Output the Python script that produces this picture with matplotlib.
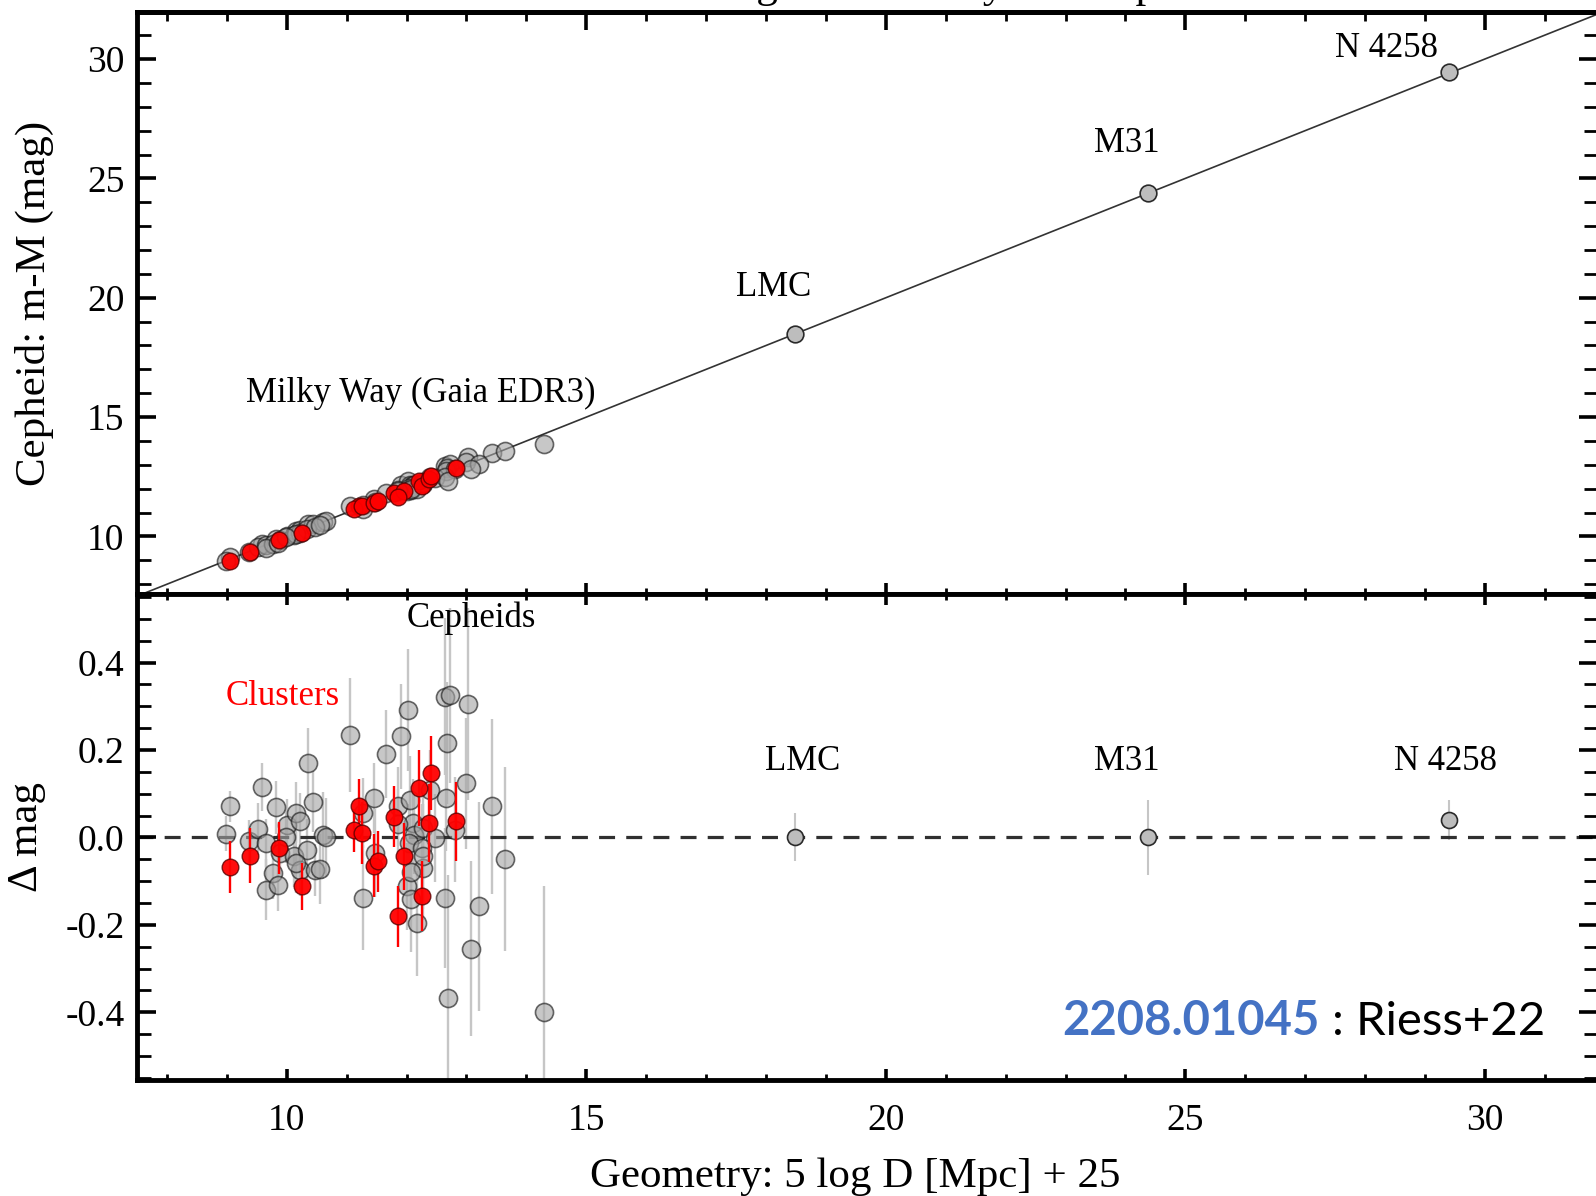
import matplotlib
matplotlib.use("Agg")
import matplotlib.pyplot as plt
import numpy as np
from matplotlib.ticker import FormatStrFormatter, MultipleLocator, NullFormatter

# Geometric anchors: geometric distance modulus, Cepheid - geometry offset, error
anchor_names = ["LMC", "M31", "N 4258"]
anchor_mu_geo = [18.48, 24.37, 29.40]
anchor_dmag = [0.000, 0.000, 0.040]
anchor_err = [0.055, 0.085, 0.045]

# Milky Way Cepheids in open clusters
cluster_mu_geo = [9.05, 9.38, 9.87, 10.26, 11.20, 11.12, 11.26, 11.46, 11.52,
                  11.79, 11.96, 11.85, 12.20, 12.25, 12.38, 12.40, 12.82]
cluster_dmag = [-0.068, -0.042, -0.024, -0.112, 0.073, 0.016, 0.010, -0.065, -0.055,
                0.047, -0.043, -0.180, 0.114, -0.135, 0.033, 0.147, 0.037]
cluster_err = [0.060, 0.063, 0.060, 0.053, 0.060, 0.050, 0.070, 0.072, 0.070,
               0.070, 0.077, 0.070, 0.087, 0.080, 0.090, 0.085, 0.090]

# Milky Way field Cepheids (Gaia EDR3 parallaxes)
field_mu_geo = [9.05, 8.98, 9.58, 9.37, 9.52, 9.66, 9.82, 10.00, 10.16, 10.22,
                10.35, 10.43, 10.60, 10.65, 9.88, 9.77, 9.65, 9.85, 10.12, 10.22,
                10.34, 10.47, 10.16, 9.99, 10.55,
                11.06, 11.46, 11.65, 11.91, 12.03, 12.64, 12.72, 13.03, 12.67, 12.99,
                13.42, 13.64, 11.27, 11.86, 12.05, 12.39, 12.65, 12.11, 12.13, 12.27,
                12.47, 12.80, 11.48, 12.04, 12.25, 11.27, 12.00, 12.08, 12.17, 12.28,
                12.08, 12.27, 12.64, 12.69, 13.21, 13.07, 14.29, 11.86]
field_dmag = [0.071, 0.008, 0.115, -0.009, 0.019, -0.013, 0.069, 0.029, 0.057, 0.037,
              0.170, 0.082, 0.005, 0.000, -0.036, -0.081, -0.120, -0.108, -0.043, -0.074,
              -0.028, -0.074, -0.058, 0.002, -0.072,
              0.235, 0.090, 0.191, 0.231, 0.292, 0.322, 0.325, 0.305, 0.216, 0.124,
              0.071, -0.049, 0.056, 0.071, 0.086, 0.109, 0.090, 0.033, 0.006, 0.021,
              -0.001, 0.018, -0.036, -0.013, -0.024, -0.138, -0.112, -0.142, -0.196, -0.070,
              -0.078, -0.043, -0.138, -0.367, -0.158, -0.255, -0.400, 0.030]
field_err = [0.035, 0.040, 0.055, 0.050, 0.060, 0.055, 0.060, 0.060, 0.070, 0.065,
             0.080, 0.070, 0.100, 0.090, 0.050, 0.060, 0.070, 0.060, 0.070, 0.060,
             0.070, 0.060, 0.070, 0.060, 0.080,
             0.130, 0.080, 0.100, 0.120, 0.140, 0.180, 0.200, 0.220, 0.140, 0.150,
             0.200, 0.210, 0.080, 0.090, 0.100, 0.090, 0.120, 0.100, 0.090, 0.080,
             0.100, 0.120, 0.100, 0.090, 0.100, 0.120, 0.100, 0.120, 0.120, 0.120,
             0.100, 0.120, 0.160, 0.280, 0.240, 0.200, 0.290, 0.080]

# Cepheid distance modulus = geometry + offset
anchor_mu_ceph = np.add(anchor_mu_geo, anchor_dmag)
cluster_mu_ceph = np.add(cluster_mu_geo, cluster_dmag)
field_mu_ceph = np.add(field_mu_geo, field_dmag)

SERIF = "Liberation Serif"
plt.rcParams.update({
    "font.family": SERIF,
    "axes.unicode_minus": False,
    "axes.linewidth": 3.5,
    "xtick.direction": "in",
    "ytick.direction": "in",
    "xtick.labelsize": 27,
    "ytick.labelsize": 27,
})

GRAY_FACE = (0.64, 0.64, 0.64, 0.6)
GRAY_EDGE = (0.1, 0.1, 0.1, 0.65)
RED_FACE = (1.0, 0.0, 0.0, 0.95)
RED_EDGE = (0.35, 0.0, 0.0, 0.8)
ANCHOR_FACE = "#bdbdbd"

fig = plt.figure(figsize=(15.96, 11.96), dpi=100)
left, width = 137 / 1596, 1460.5 / 1596
ax_top = fig.add_axes([left, 1 - 594 / 1196, width, 582 / 1196])
ax_bot = fig.add_axes([left, 1 - 1080 / 1196, width, 486 / 1196])

xlim = (7.5, 31.88)

# Upper panel: Cepheid vs geometric distance moduli
ax = ax_top
ax.axline((10, 10), slope=1, color="#333333", lw=1.2, zorder=1)
ax.plot(field_mu_geo, field_mu_ceph, "o", ms=13, mfc=GRAY_FACE, mec=GRAY_EDGE, mew=1.2, zorder=2)
ax.plot(cluster_mu_geo, cluster_mu_ceph, "o", ms=12, mfc=RED_FACE, mec=RED_EDGE, mew=1.0, zorder=3)
ax.plot(anchor_mu_geo, anchor_mu_ceph, "o", ms=12, mfc=ANCHOR_FACE, mec="#2a2a2a", mew=1.2, zorder=3)
ax.set_xlim(*xlim)
ax.set_ylim(7.59, 31.97)
ax.xaxis.set_major_locator(MultipleLocator(5))
ax.xaxis.set_minor_locator(MultipleLocator(1))
ax.xaxis.set_major_formatter(NullFormatter())
ax.tick_params(axis="x", which="major", bottom=True, top=False, length=8, width=2.6)
ax.tick_params(axis="x", which="minor", bottom=True, top=False, length=4, width=2.0)
ax.yaxis.set_major_locator(MultipleLocator(5))
ax.yaxis.set_minor_locator(MultipleLocator(1))
ax.tick_params(axis="y", which="major", left=True, right=True, length=14, width=2.6, pad=9)
ax.tick_params(axis="y", which="minor", left=True, right=True, length=10, width=2.0)
top_axis = ax.secondary_xaxis("top")
top_axis.xaxis.set_major_locator(MultipleLocator(5))
top_axis.xaxis.set_minor_locator(MultipleLocator(1))
top_axis.xaxis.set_major_formatter(NullFormatter())
top_axis.tick_params(axis="x", which="major", direction="in", length=13, width=2.6)
top_axis.tick_params(axis="x", which="minor", direction="in", length=6.5, width=2.0)
top_axis.spines["top"].set_linewidth(3.5)

text_kw = dict(fontsize=25, ha="center", va="center")
ax.text(28.35, 30.46, "N 4258", **text_kw)
ax.text(24.02, 26.46, "M31", **text_kw)
ax.text(18.12, 20.45, "LMC", **text_kw)
ax.text(12.24, 16.01, "Milky Way (Gaia EDR3)", **text_kw)

# Lower panel: residuals
ax = ax_bot
ax.axhline(0, color="#303030", lw=2.3, ls=(0, (5, 3.5)), zorder=1.5)
ax.errorbar(field_mu_geo, field_dmag, yerr=field_err, fmt="none", ecolor="#c6c6c6",
            elinewidth=1.7, capsize=0, zorder=1)
ax.errorbar(cluster_mu_geo, cluster_dmag, yerr=cluster_err, fmt="none", ecolor="#ff0000",
            elinewidth=1.7, capsize=0, zorder=2.5)
ax.errorbar(anchor_mu_geo, anchor_dmag, yerr=anchor_err, fmt="none", ecolor="#c6c6c6",
            elinewidth=1.5, capsize=0, zorder=1)
ax.plot(field_mu_geo, field_dmag, "o", ms=13, mfc=GRAY_FACE, mec=GRAY_EDGE, mew=1.2, zorder=2)
ax.plot(cluster_mu_geo, cluster_dmag, "o", ms=12, mfc=RED_FACE, mec=RED_EDGE, mew=1.0, zorder=3)
ax.plot(anchor_mu_geo, anchor_dmag, "o", ms=11.5, mfc=ANCHOR_FACE, mec="#2a2a2a", mew=1.2, zorder=3)
ax.set_xlim(*xlim)
ax.set_ylim(-0.555, 0.557)
ax.xaxis.set_major_locator(MultipleLocator(5))
ax.xaxis.set_minor_locator(MultipleLocator(1))
ax.tick_params(axis="x", which="major", bottom=True, top=True, length=8, width=2.6, pad=17)
ax.tick_params(axis="x", which="minor", bottom=True, top=True, length=4, width=2.0)
ax.set_yticks([-0.4, -0.2, 0.0, 0.2, 0.4])
ax.yaxis.set_major_formatter(FormatStrFormatter("%.1f"))
ax.yaxis.set_minor_locator(MultipleLocator(0.05))
ax.tick_params(axis="y", which="major", left=True, right=True, length=14, width=2.6, pad=9)
ax.tick_params(axis="y", which="minor", left=True, right=True, length=10, width=2.0)

ax.text(13.08, 0.502, "Cepheids", **text_kw)
ax.text(9.93, 0.323, "Clusters", color="#ff0000", **text_kw)
for name, x in zip(anchor_names, [18.61, 24.02, 29.34]):
    ax.text(x, 0.174, name, **text_kw)

# Axis titles
fig.text(34 / 1596, 1 - 303 / 1196, "Cepheid: m-M (mag)", rotation=90,
         fontsize=31, ha="center", va="center")
fig.text(27 / 1596, 1 - 837 / 1196, "\u0394 mag", rotation=90,
         fontsize=31, ha="center", va="center")
fig.text(855 / 1596, 1 - 1177 / 1196, "Geometry: 5 log D [Mpc] + 25",
         fontsize=31, ha="center", va="center")
fig.text(452 / 1596, 1 + 3 / 1196, "Distances: Linking to Geometry and Cepheids",
         fontsize=31, ha="left", va="baseline")

# Reference tag
fig.text(1062 / 1596, 1 - 1035 / 1196, "2208.01045", color="#4472C4",
         fontsize=34, fontfamily="Lato", fontweight="bold", ha="left", va="baseline")
fig.text(1545 / 1596, 1 - 1035 / 1196, ": Riess+22", color="black",
         fontsize=34, fontfamily="Lato", ha="right", va="baseline")

fig.savefig("out.png", dpi=100)
